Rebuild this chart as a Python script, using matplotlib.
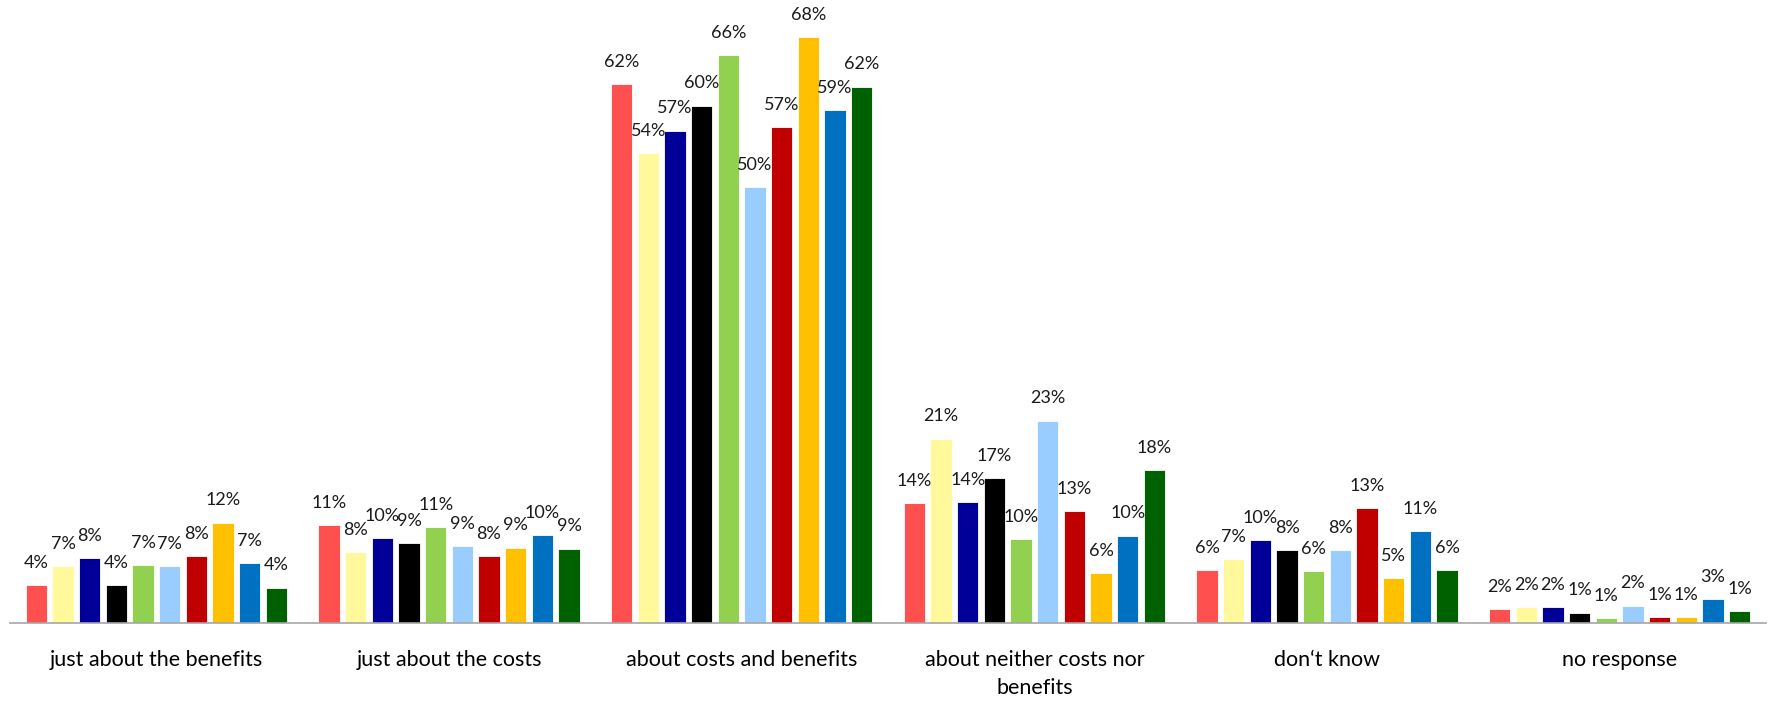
import matplotlib.pyplot as plt
import numpy as np

plt.rcParams['font.family'] = ['Lato', 'DejaVu Sans']

categories = ['just about the benefits', 'just about the costs', 'about costs and benefits',
              'about neither costs nor\nbenefits', 'don\u2018t know', 'no response']
colors = ['#FF5050', '#FFF99C', '#000099', '#000000', '#92D050',
          '#99CCFF', '#C00000', '#FFC000', '#0070C0', '#006100']

# one list per series (colour), values per category in %
s1 = [4.4, 11.3, 62.3, 13.9, 6.1, 1.6]
s2 = [6.6, 8.2, 54.3, 21.3, 7.4, 1.8]
s3 = [7.5, 9.8, 56.9, 14.0, 9.6, 1.8]
s4 = [4.4, 9.2, 59.8, 16.7, 8.4, 1.2]
s5 = [6.7, 11.1, 65.6, 9.7, 6.0, 0.6]
s6 = [6.6, 8.9, 50.4, 23.4, 8.4, 2.0]
s7 = [7.7, 7.7, 57.3, 12.9, 13.3, 0.7]
s8 = [11.6, 8.7, 67.7, 5.8, 5.2, 0.7]
s9 = [6.9, 10.2, 59.3, 10.1, 10.6, 2.8]
s10 = [4.1, 8.6, 62.0, 17.7, 6.1, 1.4]
series = [s1, s2, s3, s4, s5, s6, s7, s8, s9, s10]

fig = plt.figure(figsize=(17.71, 7.03), dpi=100)
ax = fig.add_axes([10 / 1771, 1 - 623 / 703, 1756 / 1771, 623 / 703])

x = np.arange(len(categories))
step = 0.0911
width = 0.073
for i, (vals, c) in enumerate(zip(series, colors)):
    pos = x + (i - 4.5) * step
    bars = ax.bar(pos, vals, width, color=c, edgecolor='white', linewidth=0.6)
    for b, v in zip(bars, vals):
        ax.annotate(f'{int(np.floor(v + 0.5))}%', (b.get_x() + b.get_width() / 2, v),
                    xytext=(0, 16), textcoords='offset points',
                    ha='center', va='center', fontsize=13, color='#1a1a1a')

ax.set_xlim(-0.5, len(categories) - 0.5)
ax.set_ylim(0, 72)
ax.set_yticks([])
ax.set_xticks(x)
ax.set_xticklabels(categories, fontsize=15.5, linespacing=1.5)
ax.tick_params(axis='x', length=0, pad=19.5)
for s in ['top', 'right', 'left']:
    ax.spines[s].set_visible(False)
ax.spines['bottom'].set_color('#A6A6A6')
ax.spines['bottom'].set_linewidth(1.2)

fig.savefig('out.png', dpi=100)
